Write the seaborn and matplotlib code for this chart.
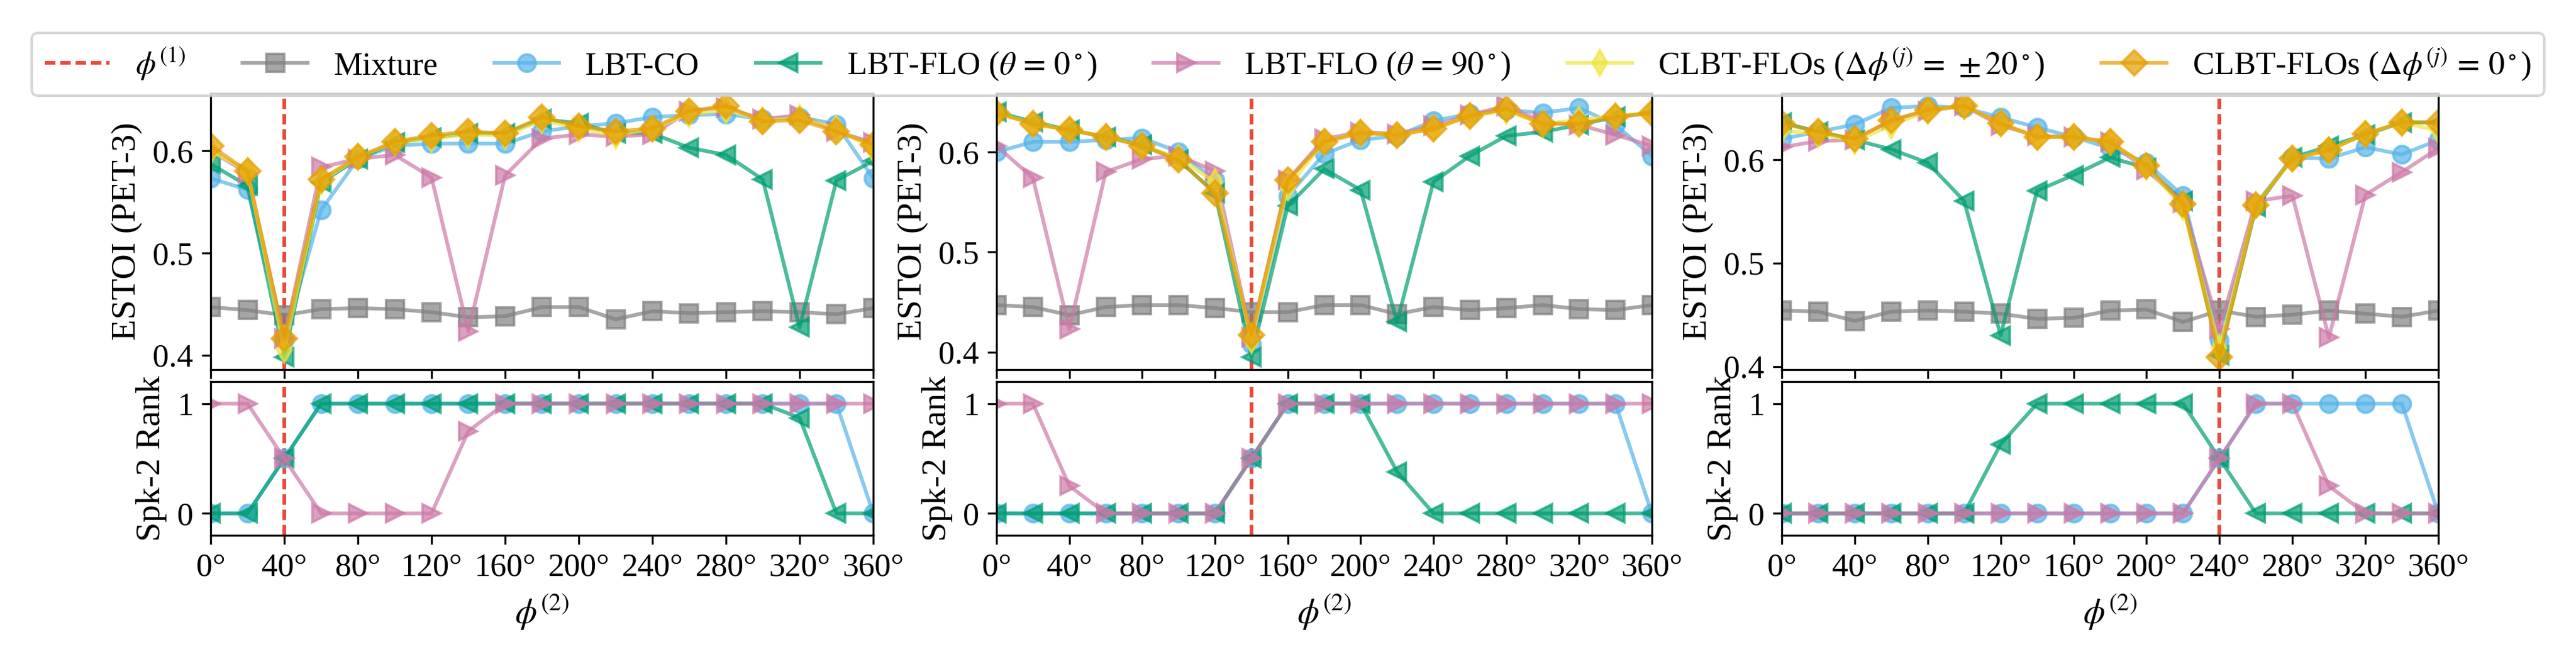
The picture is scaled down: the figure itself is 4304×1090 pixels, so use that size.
import numpy as np
import pandas as pd
import seaborn as sns
import matplotlib
matplotlib.use('Agg')
import matplotlib.pyplot as plt

plt.rcParams['font.family'] = ['serif']
plt.rcParams['font.serif'] = ['Liberation Serif', 'DejaVu Serif']
plt.rcParams['mathtext.fontset'] = 'stix'
plt.rcParams['font.size'] = 13
plt.rcParams['axes.labelsize'] = 14

## x axis (second source direction) and first source direction per panel
phi2 = [0, 20, 40, 60, 80, 100, 120, 140, 160, 180, 200, 220, 240, 260, 280, 300, 320, 340, 360]
phi1 = [40, 140, 240]

## ESTOI (PET-3), one list per panel
estoi_mixture = [
    [0.447, 0.444, 0.439, 0.445, 0.446, 0.445, 0.442, 0.437, 0.438, 0.447, 0.447, 0.435, 0.443, 0.441, 0.442, 0.443, 0.442, 0.440, 0.446],
    [0.447, 0.445, 0.437, 0.445, 0.447, 0.447, 0.444, 0.440, 0.440, 0.447, 0.447, 0.438, 0.445, 0.442, 0.444, 0.447, 0.443, 0.442, 0.447],
    [0.454, 0.453, 0.444, 0.453, 0.454, 0.453, 0.451, 0.446, 0.447, 0.454, 0.455, 0.443, 0.454, 0.448, 0.450, 0.454, 0.451, 0.448, 0.454],
]
estoi_lbt_co = [
    [0.573, 0.562, 0.415, 0.542, 0.592, 0.605, 0.607, 0.607, 0.607, 0.619, 0.624, 0.627, 0.633, 0.635, 0.636, 0.631, 0.633, 0.626, 0.573],
    [0.600, 0.610, 0.610, 0.612, 0.614, 0.600, 0.572, 0.408, 0.556, 0.598, 0.612, 0.616, 0.631, 0.638, 0.642, 0.639, 0.644, 0.627, 0.596],
    [0.620, 0.627, 0.634, 0.650, 0.652, 0.650, 0.641, 0.631, 0.622, 0.611, 0.597, 0.565, 0.425, 0.557, 0.602, 0.601, 0.612, 0.605, 0.619],
]
estoi_flo_0 = [
    [0.587, 0.566, 0.398, 0.569, 0.592, 0.608, 0.613, 0.617, 0.617, 0.631, 0.627, 0.617, 0.617, 0.603, 0.596, 0.572, 0.427, 0.571, 0.590],
    [0.640, 0.630, 0.622, 0.615, 0.607, 0.592, 0.559, 0.395, 0.546, 0.583, 0.562, 0.430, 0.570, 0.596, 0.616, 0.620, 0.627, 0.635, 0.639],
    [0.636, 0.627, 0.619, 0.610, 0.597, 0.560, 0.430, 0.570, 0.585, 0.602, 0.592, 0.560, 0.411, 0.554, 0.602, 0.613, 0.624, 0.636, 0.636],
]
estoi_flo_90 = [
    [0.600, 0.578, 0.416, 0.584, 0.592, 0.596, 0.574, 0.423, 0.576, 0.612, 0.616, 0.614, 0.616, 0.639, 0.642, 0.631, 0.635, 0.619, 0.608],
    [0.606, 0.574, 0.423, 0.580, 0.593, 0.596, 0.581, 0.415, 0.572, 0.613, 0.620, 0.618, 0.626, 0.637, 0.646, 0.630, 0.627, 0.617, 0.606],
    [0.612, 0.618, 0.619, 0.638, 0.647, 0.652, 0.633, 0.623, 0.622, 0.617, 0.590, 0.558, 0.436, 0.560, 0.565, 0.428, 0.566, 0.588, 0.611],
]
estoi_clbt_20 = [
    [0.600, 0.580, 0.405, 0.570, 0.594, 0.608, 0.612, 0.616, 0.615, 0.630, 0.622, 0.615, 0.622, 0.636, 0.640, 0.630, 0.632, 0.622, 0.602],
    [0.639, 0.628, 0.622, 0.615, 0.606, 0.594, 0.570, 0.412, 0.565, 0.610, 0.619, 0.617, 0.623, 0.636, 0.641, 0.628, 0.632, 0.636, 0.639],
    [0.628, 0.625, 0.618, 0.633, 0.647, 0.652, 0.635, 0.622, 0.622, 0.617, 0.593, 0.554, 0.418, 0.556, 0.601, 0.609, 0.625, 0.636, 0.628],
]
estoi_clbt_0 = [
    [0.605, 0.580, 0.416, 0.572, 0.594, 0.609, 0.615, 0.619, 0.617, 0.633, 0.624, 0.619, 0.622, 0.639, 0.644, 0.629, 0.630, 0.619, 0.606],
    [0.639, 0.628, 0.622, 0.615, 0.606, 0.592, 0.559, 0.417, 0.572, 0.610, 0.619, 0.617, 0.623, 0.636, 0.643, 0.628, 0.628, 0.635, 0.639],
    [0.635, 0.627, 0.620, 0.638, 0.648, 0.652, 0.635, 0.622, 0.622, 0.617, 0.594, 0.557, 0.409, 0.556, 0.601, 0.609, 0.625, 0.636, 0.636],
]

## Spk-2 rank, one list per panel
rank_lbt_co = [
    [0, 0, 0.5, 1, 1, 1, 1, 1, 1, 1, 1, 1, 1, 1, 1, 1, 1, 1, 0],
    [0, 0, 0, 0, 0, 0, 0, 0.5, 1, 1, 1, 1, 1, 1, 1, 1, 1, 1, 0],
    [0, 0, 0, 0, 0, 0, 0, 0, 0, 0, 0, 0, 0.5, 1, 1, 1, 1, 1, 0],
]
rank_flo_0 = [
    [0, 0, 0.5, 1, 1, 1, 1, 1, 1, 1, 1, 1, 1, 1, 1, 1, 0.87, 0, 0],
    [0, 0, 0, 0, 0, 0, 0, 0.5, 1, 1, 1, 0.38, 0, 0, 0, 0, 0, 0, 0],
    [0, 0, 0, 0, 0, 0, 0.63, 1, 1, 1, 1, 1, 0.5, 0, 0, 0, 0, 0, 0],
]
rank_flo_90 = [
    [1, 1, 0.5, 0, 0, 0, 0, 0.75, 1, 1, 1, 1, 1, 1, 1, 1, 1, 1, 1],
    [1, 1, 0.25, 0, 0, 0, 0, 0.5, 1, 1, 1, 1, 1, 1, 1, 1, 1, 1, 1],
    [0, 0, 0, 0, 0, 0, 0, 0, 0, 0, 0, 0, 0.5, 1, 1, 0.25, 0, 0, 0],
]

names = ['Mixture', 'LBT-CO', r'LBT-FLO ($\theta\,=\,0^\circ$)', r'LBT-FLO ($\theta\,=\,90^\circ$)',
         r'CLBT-FLOs ($\Delta\phi^{(j)}\,=\,\pm20^\circ$)', r'CLBT-FLOs ($\Delta\phi^{(j)}\,=\,0^\circ$)']
colors = ['gray', '#56B4E9', '#009E73', '#CC79A7', '#F0E442', '#E69F00']
markers = ['s', 'o', '<', '>', 'd', 'D']
red = '#E74C3C'


def draw_series(ax, y, k):
    sns.lineplot(x=phi2, y=y, ax=ax, color=colors[k], marker=markers[k], markersize=7,
                 linewidth=1.5, alpha=0.7, markeredgecolor=colors[k], markeredgewidth=1.0,
                 label=names[k], legend=False)


W, H = 4304, 1090
fig = plt.figure(figsize=(W / 300, H / 300), dpi=300)

lefts = [352, 1665, 2977]
widths = [1107, 1095, 1097]
ticks = [0, 40, 80, 120, 160, 200, 240, 280, 320, 360]
ticklabels = [f'{t}°' for t in ticks]

for p in range(3):
    ax_t = fig.add_axes([lefts[p] / W, 1 - 618 / H, widths[p] / W, (618 - 156) / H])
    ax_b = fig.add_axes([lefts[p] / W, 1 - 895 / H, widths[p] / W, (895 - 638) / H])

    ## top: ESTOI
    ax_t.axvline(phi1[p], color=red, ls='--', lw=1.5, dashes=(2.8, 1.3), label=r'$\phi^{(1)}$')
    estoi = [estoi_mixture, estoi_lbt_co, estoi_flo_0, estoi_flo_90, estoi_clbt_20, estoi_clbt_0]
    for k, series in enumerate(estoi):
        draw_series(ax_t, series[p], k)
    ax_t.set_xlim(0, 360)
    ax_t.set_xticks(ticks)
    ax_t.set_xticklabels([])
    ax_t.set_ylabel('ESTOI (PET-3)')
    ax_t.set_xlabel('')

    ## bottom: rank of speaker 2
    ax_b.axvline(phi1[p], color=red, ls='--', lw=1.5, dashes=(2.8, 1.3))
    for k, series in [(1, rank_lbt_co), (2, rank_flo_0), (3, rank_flo_90)]:
        draw_series(ax_b, series[p], k)
    ax_b.set_xlim(0, 360)
    ax_b.set_ylim(-0.2, 1.2)
    ax_b.set_yticks([0, 1])
    ax_b.set_xticks(ticks)
    ax_b.set_xticklabels(ticklabels)
    ax_b.set_ylabel('Spk-2 Rank')
    ax_b.set_xlabel(r'$\phi^{(2)}$')

    if p == 0:
        handles, labels = ax_t.get_legend_handles_labels()

fig.legend(handles, labels, loc='upper center', bbox_to_anchor=(0.5, 1 - 28 / H),
           ncol=7, fontsize=13, frameon=True, columnspacing=1.75)

fig.savefig('out.png', dpi=300)
